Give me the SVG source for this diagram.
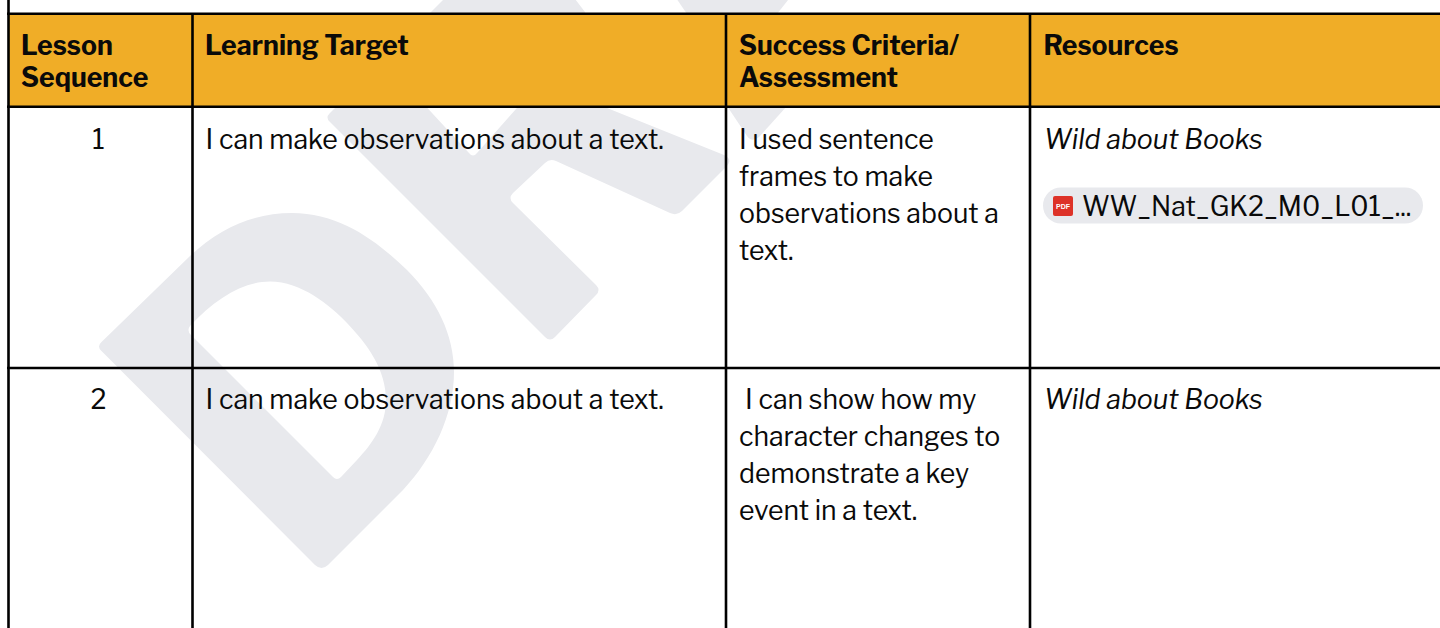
<svg xmlns="http://www.w3.org/2000/svg" width="1440" height="628" viewBox="0 0 1440 628">
<style>
text{font-family:"Libre Franklin","Lato","Liberation Sans",sans-serif;font-size:26.67px;fill:#0a0a0a}
.b{font-weight:700}
.t{font-weight:400}
.i{font-style:italic}
.l{stroke:#000;stroke-width:2.600;fill:none}
.w{fill:#e8e9ed;fill-rule:evenodd}
</style>
<rect width="1440" height="628" fill="#fff"/>
<g id="watermark">
<path class="w" d="M101.500 342L190 256C222 226 256 213 292 213C340 213 377 241 407 270C437 300 454 335 454 372C454 415 433 458 403 490L328 565Q321.500 571 315 565L101.500 351Q96.500 346.500 101.500 342ZM190 326C215 299 243 281.500 270 281.500C301 281.500 330 305 347 323C368 345 386 370 386 400C386 425 372 444 357 460L341 477Q337 481 333 477L191 335Q186.500 330.500 190 326Z"/>
<path class="w" d="M448 -5L572 -5L585 12L607 108L724 155Q733 159 727 166L682 211Q677 216 670 213L556 161Q550 158 545 163L513 193Q508 198 513 203L596 285Q601 290 596 295L555 337Q550 342 545 337L329.500 121.500Q325.500 117.500 329.500 113.500ZM420 100L469 153Q473 158 477 153L524 100Z"/>
<path class="w" d="M674 -5L792 -5L777 14L687 14Z"/>
<path class="w" d="M727 106L747 136Q752 143 759 137L787 106Z"/>
</g>
<g id="header">
<rect x="9" y="14" width="1431" height="92" fill="#f0ad27"/>
<text class="b" x="21" y="54.700">Lesson</text>
<text class="b" x="21" y="86.700">Sequence</text>
<text class="b" x="205" y="54.700">Learning Target</text>
<text class="b" x="739" y="54.700">Success Criteria/</text>
<text class="b" x="739" y="86.700">Assessment</text>
<text class="b" x="1043.500" y="54.700">Resources</text>
</g>
<g id="row1">
<text class="t" x="98.500" y="149" text-anchor="middle">1</text>
<text class="t" x="205.500" y="149">I can make observations about a text.</text>
<text class="t" x="739" y="149">I used sentence</text>
<text class="t" x="739" y="186">frames to make</text>
<text class="t" x="739" y="223">observations about a</text>
<text class="t" x="739" y="260">text.</text>
<text class="t i" x="1044" y="149">Wild about Books</text>
<rect x="1043" y="187.500" width="380" height="36" rx="18" fill="#e8e9ed"/>
<rect x="1053" y="196" width="20" height="20" rx="2" fill="#dd3228"/>
<text x="1063" y="208.500" text-anchor="middle" style="font-family:'Liberation Sans',sans-serif;font-size:7px;font-weight:700;fill:#fff">PDF</text>
<text class="t" x="1082" y="216">WW_Nat_GK2_M0_L01_...</text>
</g>
<g id="row2">
<text class="t" x="98.500" y="409" text-anchor="middle">2</text>
<text class="t" x="205.500" y="409">I can make observations about a text.</text>
<text class="t" x="745" y="409">I can show how my</text>
<text class="t" x="739" y="446">character changes to</text>
<text class="t" x="739" y="483">demonstrate a key</text>
<text class="t" x="739" y="520">event in a text.</text>
<text class="t i" x="1044" y="409">Wild about Books</text>
</g>
<g id="connectors">
<path class="l" d="M8.500 0V628M192.500 14V628M726 14V628M1030 14V628"/>
<path class="l" d="M7 13.700H1440M7 106.700H1440M7 368H1440"/>
</g>
</svg>
